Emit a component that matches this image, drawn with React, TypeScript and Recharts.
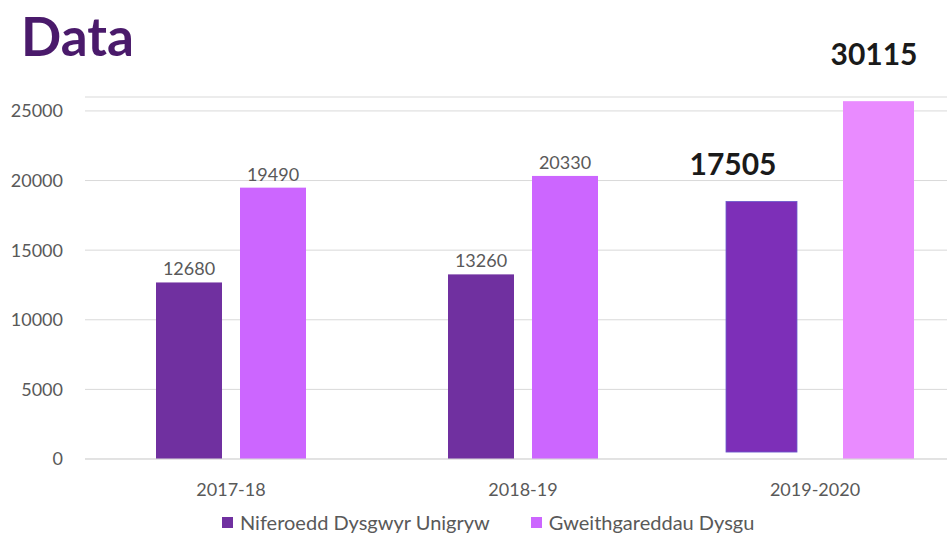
import React from "react";
import { Bar, BarChart, CartesianGrid, LabelList, Legend, XAxis, YAxis } from "recharts";

const categories = ["2017-18", "2018-19", "2019-2020"];
const unigrywBase = [0, 0, 500];
const unigryw = [12680, 13260, 18500];
const unigrywLabels = ["12680", "13260", "17505"];
const gweithgareddau = [19490, 20330, 25700];
const gweithLabels = ["19490", "20330", "30115"];
const seriesNames = ["Niferoedd Dysgwyr Unigryw", "Gweithgareddau Dysgu"];
const yTicks = [0, 5000, 10000, 15000, 20000, 25000];

const data = categories.map((name, i) => ({
    name,
    unigryw: [unigrywBase[i], unigryw[i]],
    gweith: gweithgareddau[i],
}));

const FONT = "Lato, 'Open Sans', sans-serif";
const GREY = "#595959";

// last group was pasted in wider and spread apart in the original slide
function makeShape(fill: string, lastFill: string, shift: number) {
    return (props: any) => {
        const { x, y, width, height, index } = props;
        if (index === 2) {
            return (
                <rect
                    x={x + shift}
                    y={y}
                    width={width + 5}
                    height={height}
                    fill={lastFill}
                    stroke={shift < 0 ? "#6a5acd" : "none"}
                    strokeWidth={shift < 0 ? 0.8 : 0}
                />
            );
        }
        return <rect x={x} y={y} width={width} height={height} fill={fill} />;
    };
}

function makeLabel(labels: string[], bigDx: number, bigDy: number) {
    return (props: any) => {
        const { x, y, width, index } = props;
        if (index === 2) {
            return (
                <text x={x + width / 2 + bigDx} y={y - bigDy} textAnchor="middle" fill="#1a1a1a"
                    fontFamily={FONT} fontWeight={700} fontSize={30}>
                    {labels[index]}
                </text>
            );
        }
        return (
            <text x={x + width / 2} y={y - 7} textAnchor="middle" fill={GREY} fontFamily={FONT} fontSize={18}>
                {labels[index]}
            </text>
        );
    };
}

const renderLegend = (props: any) => {
    const items = [...(props.payload || [])].sort(
        (a: any, b: any) => seriesNames.indexOf(a.value) - seriesNames.indexOf(b.value)
    );
    return (
        <div style={{ display: "flex", gap: 41, fontFamily: FONT, fontSize: 20, color: GREY, lineHeight: "24px" }}>
            {items.map((p: any) => (
                <div key={p.value} style={{ display: "flex", alignItems: "center" }}>
                    <span style={{ width: 11, height: 11, background: p.color, marginRight: 7, display: "inline-block" }} />
                    <span>{p.value}</span>
                </div>
            ))}
        </div>
    );
};

export default function App() {
    return (
        <div style={{ position: "fixed", left: 0, top: 0, width: 947, height: 534, overflow: "hidden", background: "#fff" }}>
            <div style={{ position: "absolute", left: 21, top: 4, fontFamily: FONT, fontWeight: 700, fontSize: 53, color: "#4a1a6b", zIndex: 2 }}>
                Data
            </div>
            <BarChart
                width={965}
                height={534}
                data={data}
                margin={{ top: 97, right: 4, bottom: 45, left: 0 }}
                barSize={66}
                barGap={18}
            >
                <CartesianGrid vertical={false} stroke="#d9d9d9" />
                <XAxis
                    dataKey="name"
                    height={30}
                    tickLine={false}
                    axisLine={{ stroke: "#d9d9d9" }}
                    tickMargin={18}
                    tick={{ fill: GREY, fontSize: 18, fontFamily: FONT }}
                />
                <YAxis
                    width={85}
                    domain={[0, 26000]}
                    ticks={yTicks}
                    axisLine={false}
                    tickLine={false}
                    tickMargin={16}
                    tick={{ fill: GREY, fontSize: 18, fontFamily: FONT }}
                />
                <Legend
                    verticalAlign="middle"
                    align="center"
                    wrapperStyle={{ top: 510, left: 222, width: "auto" }}
                    content={renderLegend}
                />
                <Bar
                    dataKey="unigryw"
                    name={seriesNames[0]}
                    fill="#7030a0"
                    shape={makeShape("#7030a0", "#7d2fb8", -14)}
                    isAnimationActive={false}
                >
                    <LabelList dataKey="unigryw" content={makeLabel(unigrywLabels, -40, 26)} />
                </Bar>
                <Bar
                    dataKey="gweith"
                    name={seriesNames[1]}
                    fill="#cc66ff"
                    shape={makeShape("#cc66ff", "#e98bff", 19)}
                    isAnimationActive={false}
                >
                    <LabelList dataKey="gweith" content={makeLabel(gweithLabels, 17, 36)} />
                </Bar>
            </BarChart>
        </div>
    );
}
